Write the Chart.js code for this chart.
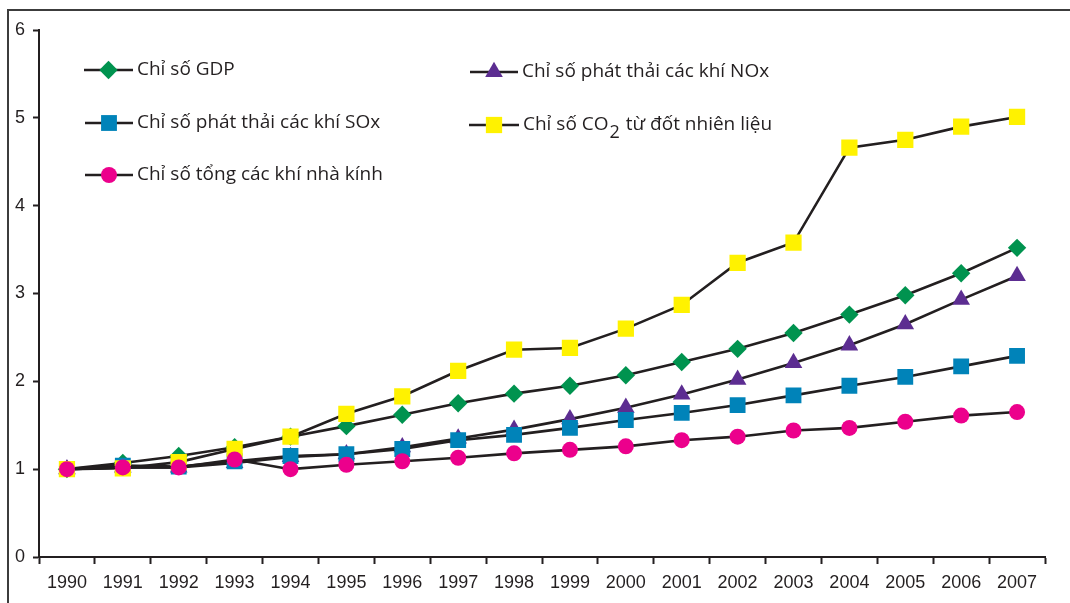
<!DOCTYPE html>
<html>
<head>
<meta charset="utf-8">
<script src="https://cdn.jsdelivr.net/npm/chart.js@4/dist/chart.umd.min.js"></script>
<style>
  html, body { margin: 0; padding: 0; background: #ffffff; }
  #wrap { width: 1070px; height: 603px; position: relative; }
</style>
</head>
<body>
<div id="wrap"><canvas id="chart" width="1070" height="603"></canvas></div>
<script>
// Years on the category axis
const years = ['1990','1991','1992','1993','1994','1995','1996','1997','1998',
               '1999','2000','2001','2002','2003','2004','2005','2006','2007'];

// Index series (1990 = 1)
const gdpIndex = [1.00,1.07,1.15,1.25,1.37,1.49,1.62,1.75,1.86,1.95,2.07,2.22,2.37,2.55,2.76,2.98,3.23,3.52];
const noxIndex = [1.00,1.02,1.02,1.07,1.14,1.17,1.25,1.35,1.45,1.57,1.70,1.85,2.02,2.21,2.41,2.65,2.93,3.20];
const soxIndex = [1.00,1.04,1.03,1.09,1.15,1.17,1.23,1.33,1.39,1.47,1.56,1.64,1.73,1.84,1.95,2.05,2.17,2.29];
const co2Index = [1.00,1.01,1.08,1.23,1.37,1.63,1.83,2.12,2.36,2.38,2.60,2.87,3.35,3.58,4.66,4.75,4.90,5.01];
const ghgIndex = [1.00,1.02,1.02,1.11,1.00,1.05,1.09,1.13,1.18,1.22,1.26,1.33,1.37,1.44,1.47,1.54,1.61,1.65];

// Y axis ticks
const yTicks = [0,1,2,3,4,5,6];

const INK = '#231f20';
const LEGEND_FAMILY = '"Open Sans", "Noto Sans", sans-serif';
const LEGEND_FONT = '19px ' + LEGEND_FAMILY;

function series(label, data, color, style, radius) {
  return {
    label, data,
    borderColor: INK,
    borderWidth: 2.6,
    backgroundColor: color,
    pointBackgroundColor: color,
    pointBorderColor: color,
    pointBorderWidth: 0,
    pointStyle: style,
    pointRadius: radius,
    pointHoverRadius: radius,
    tension: 0,
    fill: false
  };
}

// Dataset order: first entry is painted on top
const datasets = [
  series('Chỉ số tổng các khí nhà kính', ghgIndex, '#ec008c', 'circle', 8),
  series('Chỉ số CO2 từ đốt nhiên liệu', co2Index, '#fff200', 'rect', 11.5),
  series('Chỉ số phát thải các khí SOx', soxIndex, '#0083b9', 'rect', 11.2),
  series('Chỉ số phát thải các khí NOx', noxIndex, '#5c2d91', 'triangle', 10.2),
  series('Chỉ số GDP', gdpIndex, '#00934f', 'rectRot', 9.2)
];

// Legend layout: [dataset index, line start x, line end x, centre y]
const legendRows = [
  [4, 84, 133, 70],
  [2, 85, 133, 123],
  [0, 85, 133, 175],
  [3, 470, 518, 72],
  [1, 469, 519, 125]
];

const framePlugin = {
  id: 'frame',
  beforeDraw(chart) {
    const ctx = chart.ctx;
    ctx.save();
    ctx.strokeStyle = '#3c3c3c';
    ctx.lineWidth = 2;
    ctx.beginPath();
    ctx.moveTo(8, 603);
    ctx.lineTo(8, 10);
    ctx.lineTo(1070, 10);
    ctx.stroke();
    ctx.restore();
  }
};

const legendPlugin = {
  id: 'lineLegend',
  afterDraw(chart) {
    const ctx = chart.ctx;
    ctx.save();
    legendRows.forEach(([i, x1, x2, y]) => {
      const ds = chart.data.datasets[i];
      ctx.strokeStyle = INK;
      ctx.lineWidth = 2.6;
      ctx.beginPath();
      ctx.moveTo(x1, y);
      ctx.lineTo(x2, y);
      ctx.stroke();
      ctx.fillStyle = ds.pointBackgroundColor;
      Chart.helpers.drawPoint(ctx, {
        pointStyle: ds.pointStyle, rotation: 0,
        radius: ds.pointRadius, borderWidth: 0
      }, (x1 + x2) / 2, y);

      ctx.fillStyle = INK;
      ctx.font = LEGEND_FONT;
      ctx.textBaseline = 'middle';
      ctx.textAlign = 'left';
      let tx = x2 + 4;
      if (ds.label.indexOf('CO2') >= 0) {
        const [before, after] = ds.label.split('CO2');
        const head = before + 'CO';
        ctx.fillText(head, tx, y);
        tx += ctx.measureText(head).width;
        ctx.font = '18px ' + LEGEND_FAMILY;
        ctx.fillText('2', tx + 1, y + 8);
        tx += ctx.measureText('2').width + 2;
        ctx.font = LEGEND_FONT;
        ctx.fillText(after, tx, y);
      } else {
        ctx.fillText(ds.label, tx, y);
      }
    });
    ctx.restore();
  }
};

new Chart(document.getElementById('chart'), {
  type: 'line',
  data: { labels: years, datasets },
  options: {
    responsive: false,
    animation: false,
    layout: { padding: { top: 30, right: 25, left: 0, bottom: 0 } },
    plugins: {
      legend: { display: false },
      tooltip: { enabled: false }
    },
    scales: {
      x: {
        type: 'category',
        offset: true,
        grid: {
          offset: true,
          drawOnChartArea: false,
          drawTicks: true,
          tickLength: 7,
          tickWidth: 2,
          tickColor: INK
        },
        border: { display: true, color: INK, width: 2 },
        ticks: {
          color: INK,
          font: { family: '"Liberation Sans", Arial, sans-serif', size: 18 },
          padding: 8,
          maxRotation: 0,
          autoSkip: false
        },
        afterFit(scale) { scale.height = 46; }
      },
      y: {
        min: 0,
        max: 6,
        afterBuildTicks(scale) { scale.ticks = yTicks.map(v => ({ value: v })); },
        grid: {
          drawOnChartArea: false,
          drawTicks: true,
          tickLength: 6,
          tickWidth: 2,
          tickColor: INK
        },
        border: { display: true, color: INK, width: 2 },
        ticks: {
          color: INK,
          font: { family: '"Liberation Sans", Arial, sans-serif', size: 18 },
          padding: 8
        },
        afterFit(scale) { scale.width = 39; }
      }
    }
  },
  plugins: [framePlugin, legendPlugin]
});
</script>
</body>
</html>
